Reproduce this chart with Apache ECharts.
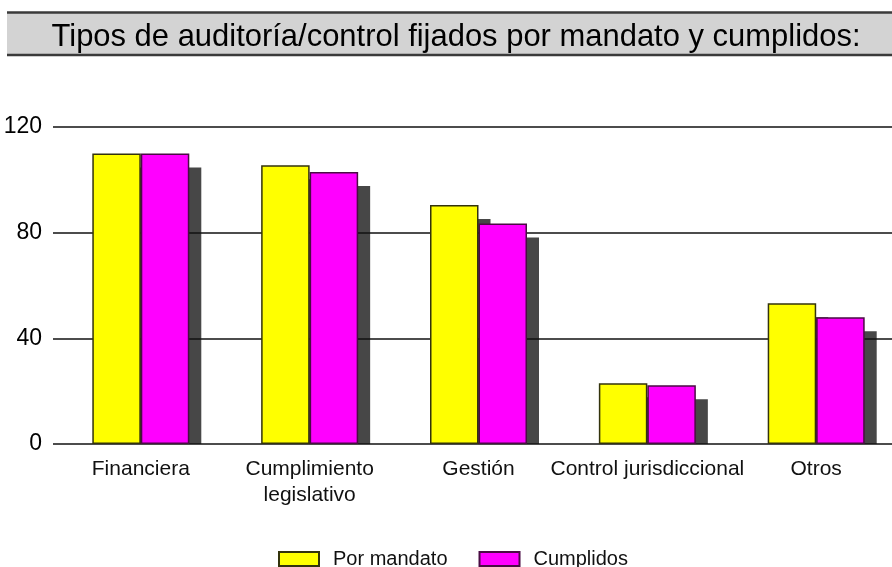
<!DOCTYPE html>
<html><head><meta charset="utf-8">
<script src="https://cdn.jsdelivr.net/npm/echarts@6/dist/echarts.min.js"></script>
<style>html,body{margin:0;padding:0;background:#fff}#c{width:892px;height:567px}</style>
</head><body><div id="c"></div>
<script>
const titleText = 'Tipos de auditoría/control fijados por mandato y cumplidos:';
const categories = ['Financiera', 'Cumplimiento\nlegislativo', 'Gestión', 'Control jurisdiccional', 'Otros'];
const seriesNames = ['Por mandato', 'Cumplidos'];
const porMandato = [110, 105.5, 90.5, 23, 53.3];
const cumplidos = [110, 103, 83.5, 22.2, 48];
const yMin = 0, yMax = 120, yStep = 40;

const FONT = '"Liberation Sans", Arial, sans-serif';
const BAR_W = 48.5, SH_X = 12, SH_Y = 14;
const shadowData = categories.map((c, i) => [i, porMandato[i], cumplidos[i]]);
const mandatoData = porMandato.map((v, i) => [i, v]);
const cumplidosData = cumplidos.map((v, i) => [i, v]);

const chart = echarts.init(document.getElementById('c'), null, {renderer: 'canvas'});
chart.setOption({
  animation: false,
  backgroundColor: '#ffffff',
  textStyle: {fontFamily: FONT},
  graphic: [
    {type: 'rect', z: 10, shape: {x: 7, y: 12, width: 900, height: 43}, style: {fill: '#d3d3d3'}},
    {type: 'line', z: 11, shape: {x1: 7, y1: 12.5, x2: 892, y2: 12.5}, style: {stroke: '#3a3a3a', lineWidth: 2.5}},
    {type: 'line', z: 11, shape: {x1: 7, y1: 55, x2: 892, y2: 55}, style: {stroke: '#3a3a3a', lineWidth: 2.5}},
    {type: 'text', z: 12, x: 456, y: 37, scaleX: 0.967,
      style: {text: titleText, x: 0, y: 0, align: 'center', verticalAlign: 'middle', fill: '#000', font: '32px ' + FONT}}
  ],
  legend: {
    data: seriesNames, left: 273, top: 544, itemWidth: 40, itemHeight: 14, itemGap: 31, icon: 'rect',
    textStyle: {fontSize: 20, color: '#111', fontFamily: FONT, padding: [0, 0, 0, 9]}
  },
  grid: [
    {left: 53, right: 0, top: 127, bottom: 123},
    {left: 140.8, right: 75.8, top: 127, bottom: 123}
  ],
  xAxis: [
    {gridIndex: 0, type: 'category', data: categories, show: false},
    {gridIndex: 1, type: 'value', min: 0, max: categories.length - 1, interval: 1,
      axisLine: {show: false}, axisTick: {show: false}, splitLine: {show: false},
      axisLabel: {fontSize: 21, color: '#111', margin: 12, lineHeight: 26, fontFamily: FONT,
        formatter: function (v) { return categories[v] || ''; }}}
  ],
  yAxis: [
    {gridIndex: 0, type: 'value', min: yMin, max: yMax, interval: yStep,
      axisLine: {show: false}, axisTick: {show: false},
      axisLabel: {fontSize: 23, color: '#000', margin: 11, fontFamily: FONT, padding: [6, 0, 0, 0]},
      splitLine: {lineStyle: {color: '#111', width: 1.6}}},
    {gridIndex: 1, type: 'value', min: yMin, max: yMax, interval: yStep, show: false, splitLine: {show: false}}
  ],
  series: [
    {type: 'custom', xAxisIndex: 1, yAxisIndex: 1, z: -1, silent: true,
      data: shadowData, encode: {x: 0, y: [1, 2]},
      renderItem: function (params, api) {
        const idx = api.value(0);
        const base = api.coord([idx, 0]);
        const children = [];
        [api.value(1), api.value(2)].forEach(function (v, k) {
          const top = api.coord([idx, v]);
          const x0 = base[0] - BAR_W + k * BAR_W + SH_X;
          children.push({type: 'rect',
            shape: {x: x0, y: top[1] + SH_Y, width: BAR_W, height: base[1] - top[1] - SH_Y},
            style: {fill: '#474747'}});
        });
        return {type: 'group', children: children};
      }},
    {name: seriesNames[0], type: 'bar', xAxisIndex: 1, yAxisIndex: 1, data: mandatoData,
      barWidth: BAR_W, barGap: '0%',
      itemStyle: {color: '#ffff00', borderColor: '#33330c', borderWidth: 1.5}},
    {name: seriesNames[1], type: 'bar', xAxisIndex: 1, yAxisIndex: 1, data: cumplidosData,
      barWidth: BAR_W, barGap: '0%',
      itemStyle: {color: '#ff00ff', borderColor: '#4a0c44', borderWidth: 1.5}}
  ]
});
</script></body></html>
